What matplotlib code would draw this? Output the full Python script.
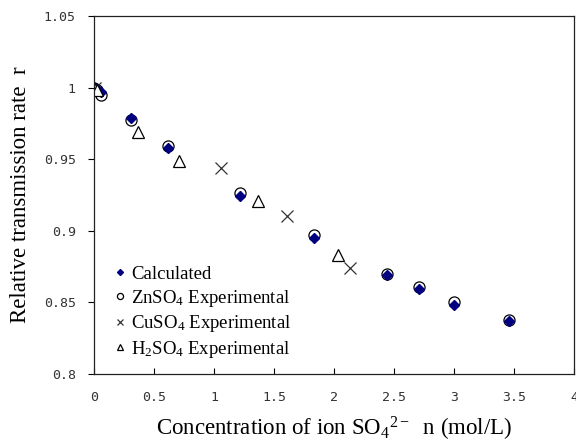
import numpy as np
import matplotlib.pyplot as plt

# data
calc_x = [0.0, 0.03, 0.06, 0.31, 0.62, 1.22, 1.83, 2.44, 2.71, 3.0, 3.46]
calc_y = [1.0, 0.999, 0.997, 0.979, 0.958, 0.924, 0.895, 0.869, 0.859, 0.848, 0.837]

zn_x = [0.0, 0.03, 0.06, 0.31, 0.62, 1.22, 1.83, 2.44, 2.71, 3.0, 3.46]
zn_y = [1.0, 0.998, 0.995, 0.977, 0.959, 0.926, 0.897, 0.870, 0.861, 0.850, 0.838]

cu_x = [0.01, 1.06, 1.61, 2.13]
cu_y = [1.0, 0.944, 0.910, 0.874]

h2_x = [0.0, 0.03, 0.37, 0.71, 1.37, 2.03]
h2_y = [1.0, 0.998, 0.969, 0.949, 0.921, 0.883]

xticks = [0, 0.5, 1, 1.5, 2, 2.5, 3, 3.5, 4]
yticks = [0.8, 0.85, 0.9, 0.95, 1, 1.05]

serif = 'Liberation Serif'
mono = 'DejaVu Sans Mono'

plt.rcParams['mathtext.fontset'] = 'custom'
plt.rcParams['mathtext.rm'] = serif
plt.rcParams['mathtext.it'] = serif + ':italic'
plt.rcParams['mathtext.default'] = 'rm'

fig = plt.figure(figsize=(5.76, 4.42), dpi=100)
ax = fig.add_axes([0.163, 0.154, 0.834, 0.810])

ax.plot(zn_x, zn_y, 'o', mfc='white', mec='black', mew=0.9, ms=8, label='ZnSO$_4$ Experimental')
ax.plot(calc_x, calc_y, 'D', color='#000080', ms=5.5, label='Calculated')
ax.plot(cu_x, cu_y, 'x', color='#333333', mew=0.9, ms=8, label='CuSO$_4$ Experimental')
ax.plot(h2_x, h2_y, '^', mfc='white', mec='black', mew=0.9, ms=8, label='H$_2$SO$_4$ Experimental')

ax.set_xlim(0, 4)
ax.set_ylim(0.8, 1.05)
ax.set_xticks(xticks)
ax.set_yticks(yticks)
ax.set_xticklabels(['%g' % t for t in xticks], family=mono, fontsize=9.5, color='#333333')
ax.set_yticklabels(['%g' % t for t in yticks], family=mono, fontsize=9.5, color='#333333')
ax.tick_params(axis='x', direction='in', length=4, pad=12)
ax.tick_params(axis='y', direction='out', length=4, pad=9)
for s in ax.spines.values():
    s.set_linewidth(0.9)
    s.set_color('#222222')

ax.set_xlabel('Concentration of ion SO$_4$$^{2-}$  n (mol/L)', family=serif, fontsize=16.5, labelpad=8)
ax.set_ylabel('Relative transmission rate  r', family=serif, fontsize=16.5, labelpad=9)

h, l = ax.get_legend_handles_labels()
order = [1, 0, 2, 3]
leg = ax.legend([h[i] for i in order], [l[i] for i in order], loc='lower left',
                frameon=False, prop={'family': serif, 'size': 13.5},
                markerscale=0.55, handlelength=0.5, handletextpad=0.3,
                labelspacing=0.25, borderaxespad=0, bbox_to_anchor=(0.03, 0.018))

fig.savefig('out.png')
